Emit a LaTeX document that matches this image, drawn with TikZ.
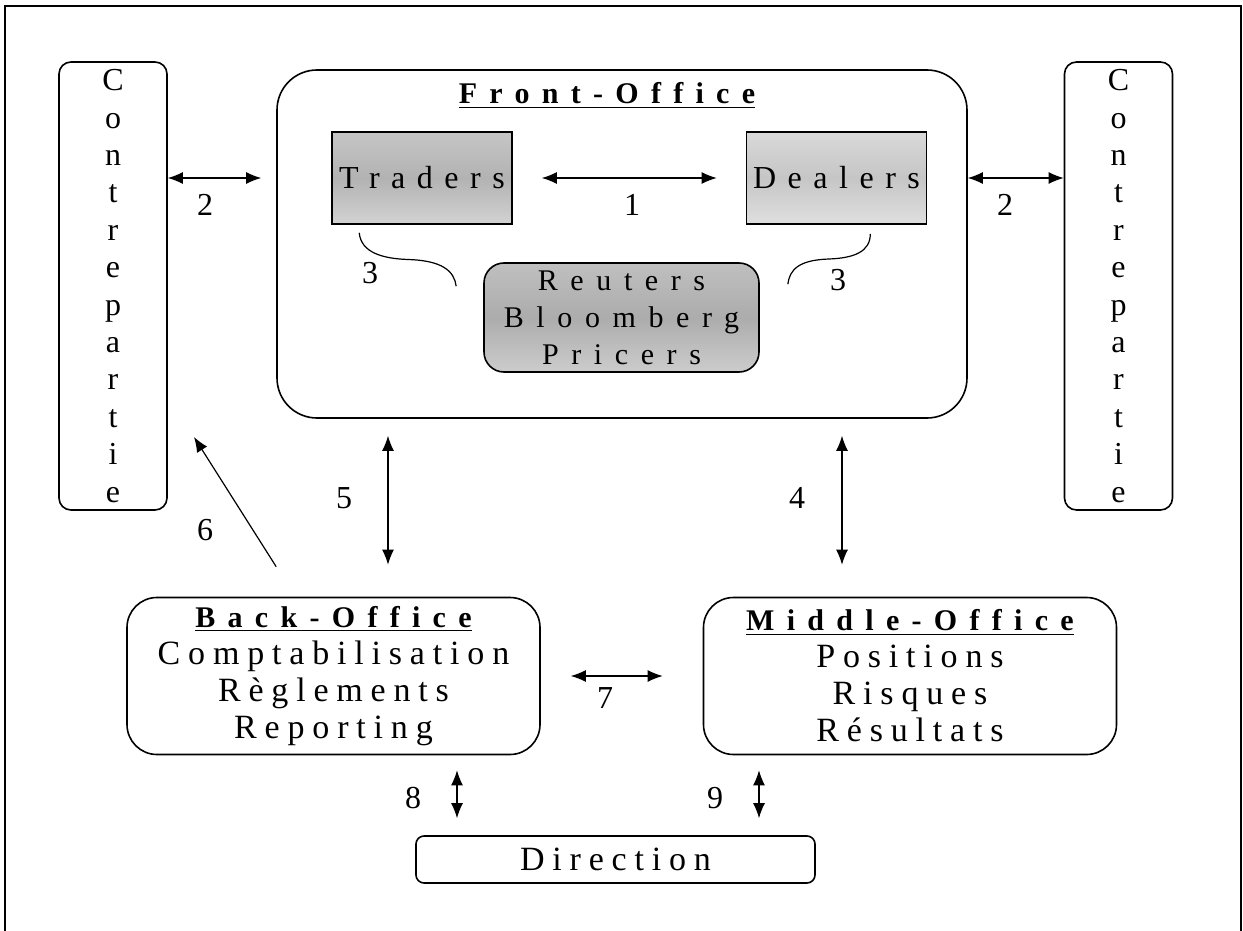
\documentclass[tikz,border=0pt]{standalone}
\usepackage{fontspec}
\setmainfont{Liberation Serif}
\usetikzlibrary{arrows.meta,calc}

\newcommand{\bodyfont}{\fontsize{17}{18.5}\selectfont\addfontfeature{LetterSpace=23}}
\newcommand{\titlefont}{\fontsize{15}{18.5}\selectfont\bfseries\addfontfeature{LetterSpace=41}}
\newcommand{\deskfont}{\fontsize{16}{18.5}\selectfont\addfontfeature{LetterSpace=36}}
\newcommand{\feedfont}{\fontsize{15}{18.5}\selectfont\addfontfeature{LetterSpace=42}}
\newcommand{\numfont}{\fontsize{16}{18}\selectfont}
\newcommand{\heading}[1]{{\titlefont\underline{#1}}}

\begin{document}
\begin{tikzpicture}[
    x=0.5pt, y=-0.5pt,
    every node/.style={inner sep=0pt},
    sidebox/.style={draw, line width=0.8pt, rounded corners=6pt, minimum width=54pt, minimum height=224pt,
        align=center, font=\fontsize{16}{18.7}\selectfont},
    office/.style={draw, line width=0.8pt, rounded corners=15pt, minimum width=206.5pt, minimum height=78.5pt,
        align=center, font=\bodyfont},
    textured/.style={draw, line width=0.8pt, minimum width=90pt, minimum height=46pt, shading angle=135,
        top color=gray!45, bottom color=gray!35, middle color=gray!60, font=\deskfont},
    link/.style={{Latex[length=7.5pt,width=6pt]}-{Latex[length=7.5pt,width=6pt]}, line width=0.6pt},
    oneway/.style={-{Latex[length=7.5pt,width=6pt]}, line width=0.6pt},
    curl/.style={line width=0.6pt},
    num/.style={font=\numfont}
]
    \useasboundingbox (0,0) rectangle (1243,931);
    % Frame
    \draw[line width=0.8pt] (5,931) -- (5,6) -- (1241,6) -- (1241,931);

    % Counterparties
    \node[sidebox] (cpleft) at (113,286) {C\\o\\n\\t\\r\\e\\p\\a\\r\\t\\i\\e};
    \node[sidebox] (cpright) at (1118.5,286) {C\\o\\n\\t\\r\\e\\p\\a\\r\\t\\i\\e};

    % Front office
    \node[draw, line width=0.8pt, rounded corners=20pt, minimum width=345pt, minimum height=174pt] (front) at (622,244) {};
    \node[anchor=base] (fotitle) at (607,104) {\heading{Front-Office}};
    \node[textured] (traders) at (422,178) {Traders};
    \node[textured, top color=gray!30, bottom color=gray!25, middle color=gray!45] (dealers) at (836.5,178) {Dealers};
    \node[textured, rounded corners=10pt, minimum width=137.5pt, minimum height=54.5pt, align=center,
        font=\feedfont, top color=gray!50, bottom color=gray!40, middle color=gray!65] (reuters) at (621.5,317.5)
        {Reuters\\Bloomberg\\Pricers};

    % Back, middle, direction
    \node[office] (back) at (333.5,676)
        {\heading{Back-Office}\\Comptabilisation\\Règlements\\Reporting};
    \node[office] (middle) at (910,676)
        {\heading{Middle-Office}\\Positions\\Risques\\Résultats};
    \node[draw, line width=0.8pt, rounded corners=4pt, minimum width=199.5pt, minimum height=23.5pt,
        font=\bodyfont] (direction) at (615.5,859.5) {Direction};

    % Flows
    \draw[link, shorten <=14.5pt, shorten >=14.5pt] (traders) -- (dealers);
    \node[num] (l1) at (632,205) {1};
    \draw[link, shorten >=7.5pt] (cpleft.east |- traders) -- (front.west |- traders);
    \node[num] (l2a) at (205,205) {2};
    \draw[link] (front.east |- dealers) -- (cpright.west |- dealers);
    \node[num] (l2b) at (1005,205) {2};

    % Links to the feeds
    \coordinate (tl) at ($(traders.south west)+(28,8)$);
    \coordinate (tr) at ($(reuters.north west)+(-27,24)$);
    \draw[curl] (tl) .. controls +(2,20) and +(-25,-1) .. ($(tl)!0.5!(tr)$)
        .. controls +(35,1) and +(-2,-15) .. (tr);
    \node[num] (l3a) at (370,273) {3};
    \coordinate (dl) at ($(dealers.south east)+(-57,9)$);
    \coordinate (dr) at ($(reuters.north east)+(28,22)$);
    \draw[curl] (dl) .. controls +(0,18) and +(25,-1) .. ($(dl)!0.5!(dr)$)
        .. controls +(-30,1) and +(2,-15) .. (dr);
    \node[num] (l3b) at (838,280) {3};

    \draw[link, shorten <=8.5pt, shorten >=16pt] (388,0 |- front.south) -- (388,0 |- back.north);
    \node[num] (l5) at (344,498) {5};
    \draw[link, shorten <=8.5pt, shorten >=16pt] (842,0 |- front.south) -- (842,0 |- middle.north);
    \node[num] (l4) at (797,498) {4};

    \coordinate (cpnear) at (194,437);
    \draw[oneway] ($(back.north west)+(150,-30)$) -- (cpnear);
    \node[num] (l6) at (205,530) {6};

    \draw[link, shorten <=15pt, shorten >=20pt] (back) -- (middle);
    \node[num] (l7) at (605,698) {7};
    \draw[link, shorten <=7.5pt, shorten >=8.5pt] (457,0 |- back.south) -- (457,0 |- direction.north);
    \node[num] (l8) at (413,798) {8};
    \draw[link, shorten <=7.5pt, shorten >=8.5pt] (759,0 |- middle.south) -- (759,0 |- direction.north);
    \node[num] (l9) at (715,798) {9};
\end{tikzpicture}
\end{document}
